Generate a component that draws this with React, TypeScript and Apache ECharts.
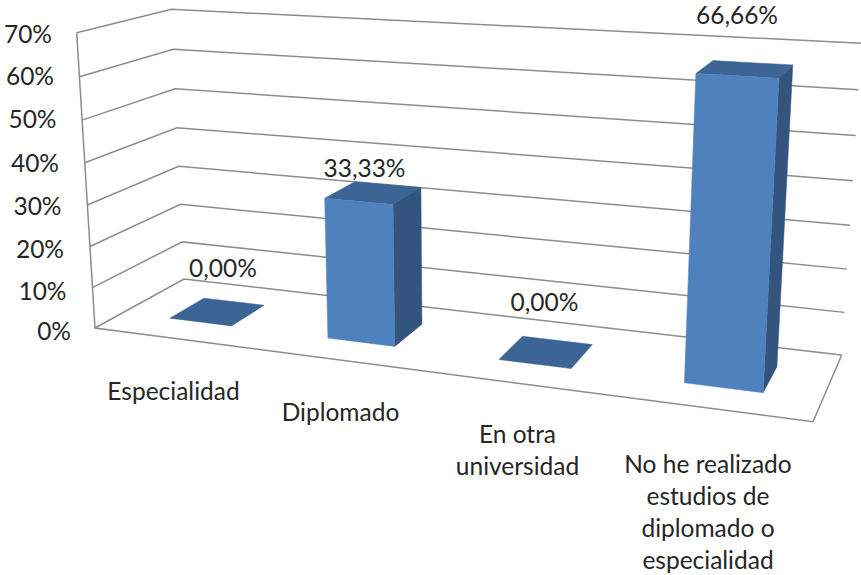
import React, { useEffect, useRef } from "react";
import * as echarts from "echarts";

const categories = [
  "Especialidad",
  "Diplomado",
  "En otra\nuniversidad",
  "No he realizado\nestudios de\ndiplomado o\nespecialidad",
];
const percentValues = [0, 33.33, 0, 66.66];
const valueLabels = ["0,00%", "33,33%", "0,00%", "66,66%"];
const yTicks = [0, 10, 20, 30, 40, 50, 60, 70];
const yTickLabels = ["0%", "10%", "20%", "30%", "40%", "50%", "60%", "70%"];

// Page placement of the texts, kept apart from the data.
const valueLabelCentres = [[223, 267], [364.5, 167], [544.5, 301], [737, 14]];
const categoryLabelCentres = [[173.5, 390], [340.5, 411], [517.5, 449], [708, 511]];
const tickLabelRight = [71, 66.5, 64, 61.5, 59, 56.5, 54, 52];
const tickLabelMiddle = [330, 290, 248, 205, 162, 118, 75, 33];

// Floor corners on screen: [front-left, front-right, back-right, back-left]
const FLOOR = [[95, 328], [813, 421.7], [841.7, 355], [184, 279]];
// Vanishing point of the verticals, and perspective strength along height
const VP = [465, 6300];
const Q = -0.0471;
const BAR_SHIFT = 0.002;
const BAR_HALF = 0.05;
const DEPTH_FRONT = 0.3;
const DEPTH_BACK = 0.7;
const TEXT = "#262626";
const FONT = "Lato";
const FONT_SIZE = 24.5;

const [[x0, y0], [x1, y1], [x2, y2], [x3, y3]] = FLOOR;
const dx1 = x1 - x2, dx2 = x3 - x2, sx = x0 - x1 + x2 - x3;
const dy1 = y1 - y2, dy2 = y3 - y2, sy = y0 - y1 + y2 - y3;
const den = dx1 * dy2 - dx2 * dy1;
const G = (sx * dy2 - dx2 * sy) / den;
const K = (dx1 * sy - sx * dy1) / den;
const A = x1 - x0 + G * x1, B = x3 - x0 + K * x3;
const C = y1 - y0 + G * y1, E = y3 - y0 + K * y3;

// True projective map of the chart box: u across, d into depth, h up (all 0..1)
function project(u: number, d: number, h: number): number[] {
  const w = G * u + K * d + 1 + Q * h;
  return [(A * u + B * d + x0 + Q * h * VP[0]) / w, (C * u + E * d + y0 + Q * h * VP[1]) / w];
}

// Flat grid coordinates -> unit box coordinates
function unit(params: any, api: any, cat: number, val: number) {
  const cs = params.coordSys;
  const p = api.coord([cat, val]);
  return { u: (p[0] - cs.x) / cs.width, h: (cs.y + cs.height - p[1]) / cs.height };
}

const poly = (points: number[][], fill: string) => ({
  type: "polygon",
  shape: { points },
  style: { fill, stroke: fill, lineWidth: 0.5 },
});

function renderBar(params: any, api: any) {
  const { u, h } = unit(params, api, api.value(0), api.value(1));
  const l = u + BAR_SHIFT - BAR_HALF, r = u + BAR_SHIFT + BAR_HALF;
  const P = project;
  const top = poly([P(l, DEPTH_FRONT, h), P(r, DEPTH_FRONT, h), P(r, DEPTH_BACK, h), P(l, DEPTH_BACK, h)], "#3C6494");
  const children: any[] = [top];
  if (h > 0) {
    children.push(poly([P(r, DEPTH_FRONT, 0), P(r, DEPTH_BACK, 0), P(r, DEPTH_BACK, h), P(r, DEPTH_FRONT, h)], "#32547E"));
    children.push(poly([P(l, DEPTH_FRONT, 0), P(r, DEPTH_FRONT, 0), P(r, DEPTH_FRONT, h), P(l, DEPTH_FRONT, h)], "#4F81BD"));
  }
  return { type: "group", children };
}

function renderGrid(params: any, api: any) {
  const h = unit(params, api, 0, api.value(0)).h;
  const lineStyle = { stroke: "#8C8C8C", lineWidth: 1.5, fill: "none" };
  const children: any[] = [
    { type: "polyline", shape: { points: [project(0, 0, h), project(0, 1, h), project(1, 1, h)] }, style: lineStyle },
  ];
  if (params.dataIndex === 0) {
    children.push({ type: "polyline", shape: { points: [project(0, 0, 1), project(0, 0, 0), project(1, 0, 0), project(1, 1, 0)] }, style: lineStyle });
  }
  return { type: "group", children };
}

const textEl = (text: string, x: number, y: number, align: string) => ({
  type: "text",
  style: { text, x, y, align, verticalAlign: "middle", fill: TEXT, fontFamily: FONT, fontSize: FONT_SIZE, lineHeight: 32 },
});

export default function App() {
  const ref = useRef<HTMLDivElement>(null);
  useEffect(() => {
    document.body.style.margin = "0";
    const chart = echarts.init(ref.current!, undefined, { renderer: "svg" });
    chart.setOption({
      animation: false,
      backgroundColor: "#FFFFFF",
      grid: { left: 0, right: 0, top: 0, bottom: 0 },
      xAxis: { type: "category", data: categories, show: false },
      yAxis: { type: "value", min: 0, max: 70, interval: 10, show: false },
      series: [
        { type: "custom", clip: false, silent: true, z: 1, data: yTicks.map((t) => [t]), encode: { y: 0 }, renderItem: renderGrid },
        { type: "custom", clip: false, silent: true, z: 2, data: percentValues.map((v, i) => [i, v]), encode: { x: 0, y: 1 }, renderItem: renderBar },
        {
          type: "custom", clip: false, silent: true, z: 3, data: valueLabels.map((_, i) => [i]), encode: { x: 0 },
          renderItem: (p: any) => textEl(valueLabels[p.dataIndex], valueLabelCentres[p.dataIndex][0], valueLabelCentres[p.dataIndex][1], "center"),
        },
        {
          type: "custom", clip: false, silent: true, z: 3, data: categories.map((_, i) => [i]), encode: { x: 0 },
          renderItem: (p: any) => textEl(categories[p.dataIndex], categoryLabelCentres[p.dataIndex][0], categoryLabelCentres[p.dataIndex][1], "center"),
        },
        {
          type: "custom", clip: false, silent: true, z: 3, data: yTickLabels.map((_, i) => [i]), encode: { x: 0 },
          renderItem: (p: any) => textEl(yTickLabels[p.dataIndex], tickLabelRight[p.dataIndex], tickLabelMiddle[p.dataIndex], "right"),
        },
      ],
    });
    return () => chart.dispose();
  }, []);
  return <div ref={ref} style={{ position: "absolute", left: 0, top: 0, width: 861, height: 575 }} />;
}
